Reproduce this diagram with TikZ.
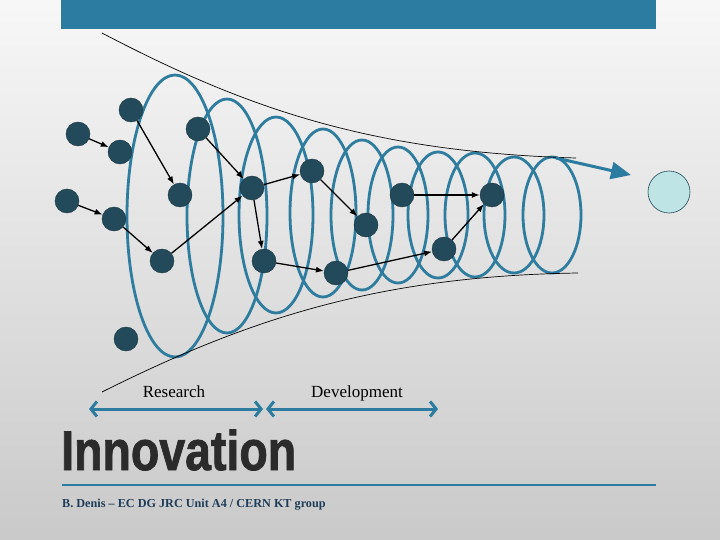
\documentclass[tikz,border=0pt]{standalone}
\usepackage{fontspec}
\setmainfont{Liberation Serif}
\newfontfamily\headfont{Liberation Sans}[UprightFont={* Bold},FakeBold=1.5]
\usetikzlibrary{arrows.meta,positioning}
\definecolor{spiralblue}{HTML}{2E7C9E}
\definecolor{barblue}{HTML}{2C7BA0}
\definecolor{ideafill}{HTML}{234A5A}
\definecolor{productfill}{HTML}{BFE4E6}
\definecolor{footnavy}{HTML}{1F3D58}

\begin{document}
\begin{tikzpicture}[x=1pt,y=-1pt,
    idea/.style={circle,draw=ideafill!70!black,fill=ideafill,minimum size=24pt,inner sep=0pt},
    link/.style={-{Latex[length=8pt,width=6pt]},line width=1.3pt,black},
    spiralring/.style={draw=spiralblue,line width=2.8pt},
    envelope/.style={line width=0.7pt,black},
    phase/.style={{Straight Barb[length=6pt,width=15pt]}-{Straight Barb[length=6pt,width=15pt]},line width=3pt,barblue},
    phaselabel/.style={inner sep=0pt,text depth=0pt,font=\fontsize{17}{20}\selectfont}]
    \useasboundingbox (0,0) rectangle (720,540);
    \shade[top color=black!3,bottom color=black!21] (0,0) rectangle (720,540);
    \fill[barblue] (61,0) rectangle (656,29);

    \foreach \cx/\cy/\rx/\ry in {175/216/48/141, 227/216/40/117, 276/215/37/98, 323/213/33/84,
        362/215/31/75, 398/215/30/68, 438/215/30/63, 475/215/30/62, 514/215/30/58, 552/215/29/58}
        \draw[spiralring] (\cx,\cy) ellipse [x radius=\rx, y radius=\ry];

    \draw[envelope] (102,33) .. controls (245,108) and (370,152) .. (576,158);
    \draw[envelope] (102,392) .. controls (250,318) and (380,276) .. (578,273);

    \foreach \name/\pos in {a/{78,134}, b/{120,152}, c/{131,110}, d/{67,201}, e/{114,219},
        f/{180,195}, g/{198,129}, h/{162,261}, k/{126,339}, m/{252,188}, p/{264,261},
        q/{312,171}, r/{366,225}, s/{336,273}, t/{402,195}, u/{444,249}, v/{492,195}}
        \node[idea] (\name) at (\pos) {};

    \foreach \from/\to in {a/b, c/f, d/e, e/h, h/m, g/m, m/q, m/p, p/s, q/r, s/u, t/v, u/v}
        \draw[link] (\from) -- (\to);

    \coordinate (flowstart) at (556,158);
    \coordinate (flowtip) at (631,175);
    \draw[-{Triangle[length=20pt,width=17pt]},line width=3pt,barblue] (flowstart) -- (flowtip);
    \node[circle,draw=ideafill,fill=productfill,minimum size=42pt,inner sep=0pt,line width=0.6pt] (market) at (669,192) {};

    \coordinate (rleft) at (89,409);
    \coordinate (rright) at (263,409);
    \coordinate (dleft) at (266,409);
    \coordinate (dright) at (438,409);
    \draw[phase] (rleft) -- (rright) coordinate[midway] (rmid);
    \draw[phase] (dleft) -- (dright) coordinate[midway] (dmid);
    \node[phaselabel,above=11pt of rmid,xshift=-2pt] (research) {Research};
    \node[phaselabel,above=11pt of dmid,xshift=5pt] (development) {Development};

    \node[anchor=base west,inner sep=0pt,text=black!83] (title) at (61,470)
        {\scalebox{0.83}[1]{\headfont\fontsize{56}{60}\selectfont Innovation}};
    \coordinate (ruleleft) at (62,485);
    \coordinate (ruleright) at (656,485);
    \draw[barblue,line width=2pt] (ruleleft) -- (ruleright);
    \node[anchor=base west,inner sep=0pt,text=footnavy,font=\bfseries\fontsize{12.2}{14}\selectfont] (credit) at (62,507)
        {B. Denis -- EC DG JRC Unit A4 / CERN KT group};
\end{tikzpicture}
\end{document}
